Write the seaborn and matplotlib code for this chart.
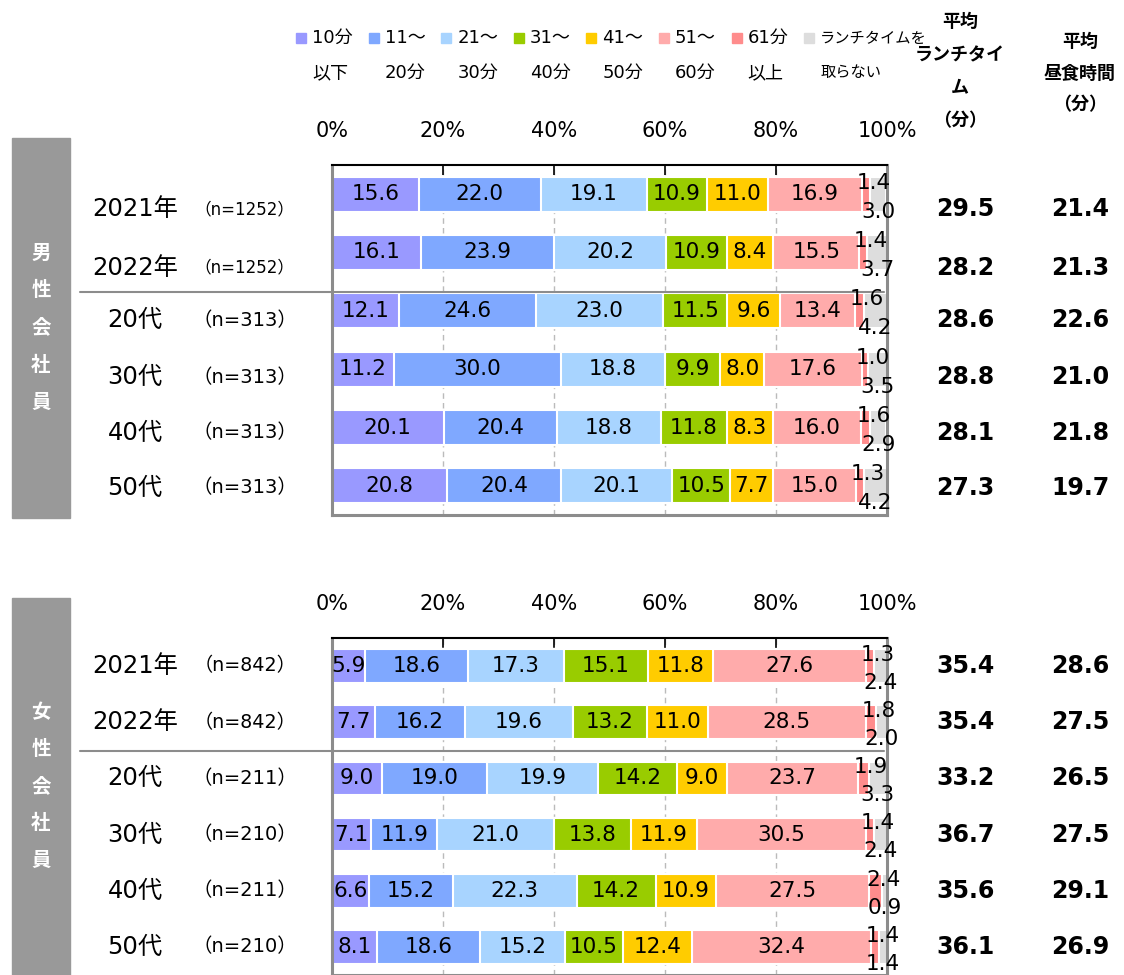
import pandas as pd
import matplotlib.pyplot as plt
from matplotlib.patches import Rectangle
from matplotlib.lines import Line2D
import seaborn as sns

# --- data ---
categories = ['10分以下', '11～20分', '21～30分', '31～40分', '41～50分',
              '51～60分', '61分以上', 'ランチタイムを取らない']
legend_line1 = ['10分', '11～', '21～', '31～', '41～', '51～', '61分', 'ランチタイムを']
legend_line2 = ['以下', '20分', '30分', '40分', '50分', '60分', '以上', '取らない']
colors = ['#9999FF', '#7FA8FF', '#A8D4FF', '#99CC00', '#FFCC00',
          '#FFABAB', '#FF8C8C', '#DDDDDD']

rows = ['2021年', '2022年', '20代', '30代', '40代', '50代']

male_n = ['（n=1252）', '（n=1252）', '（n=313）', '（n=313）', '（n=313）', '（n=313）']
male_shares = [
    [15.6, 22.0, 19.1, 10.9, 11.0, 16.9, 1.4, 3.0],
    [16.1, 23.9, 20.2, 10.9, 8.4, 15.5, 1.4, 3.7],
    [12.1, 24.6, 23.0, 11.5, 9.6, 13.4, 1.6, 4.2],
    [11.2, 30.0, 18.8, 9.9, 8.0, 17.6, 1.0, 3.5],
    [20.1, 20.4, 18.8, 11.8, 8.3, 16.0, 1.6, 2.9],
    [20.8, 20.4, 20.1, 10.5, 7.7, 15.0, 1.3, 4.2],
]
male_lunch_avg = [29.5, 28.2, 28.6, 28.8, 28.1, 27.3]
male_meal_avg = [21.4, 21.3, 22.6, 21.0, 21.8, 19.7]

female_n = ['（n=842）', '（n=842）', '（n=211）', '（n=210）', '（n=211）', '（n=210）']
female_shares = [
    [5.9, 18.6, 17.3, 15.1, 11.8, 27.6, 1.3, 2.4],
    [7.7, 16.2, 19.6, 13.2, 11.0, 28.5, 1.8, 2.0],
    [9.0, 19.0, 19.9, 14.2, 9.0, 23.7, 1.9, 3.3],
    [7.1, 11.9, 21.0, 13.8, 11.9, 30.5, 1.4, 2.4],
    [6.6, 15.2, 22.3, 14.2, 10.9, 27.5, 2.4, 0.9],
    [8.1, 18.6, 15.2, 10.5, 12.4, 32.4, 1.4, 1.4],
]
female_lunch_avg = [35.4, 35.4, 33.2, 36.7, 35.6, 36.1]
female_meal_avg = [28.6, 27.5, 26.5, 27.5, 29.1, 26.9]

header_lunch = ['平均', 'ランチタイ', 'ム', '（分）']
header_meal = ['平均', '昼食時間', '（分）']

W, H = 1124, 975
sns.set_style('white')
plt.rcParams['font.family'] = ['DejaVu Sans', 'Noto Sans CJK JP']
plt.rcParams['text.color'] = 'black'
plt.rcParams['xtick.color'] = 'black'


def fx(x):
    return x / W


def fy(y):
    return 1 - y / H


def draw_panel(fig, top, bottom, shares, n_labels, lunch_avg, meal_avg,
               label_shift, sep_y, n_sizes):
    ax = fig.add_axes([fx(332), fy(bottom), fx(887 - 332), (bottom - top) / H])
    df = pd.DataFrame(shares, columns=categories)
    df['row'] = rows
    cum = df[categories].cumsum(axis=1)

    # stacked bars: draw the longest cumulative bar first
    for i in reversed(range(len(categories))):
        sns.barplot(x=cum[categories[i]], y=df['row'], orient='h',
                    color=colors[i], saturation=1, width=0.6,
                    edgecolor='white', linewidth=1.5, ax=ax)

    ax.set_xlim(0, 100)
    ax.set_ylim(5.5, -0.5)
    ax.set_xlabel('')
    ax.set_ylabel('')
    ax.set_yticks([])
    ax.set_axisbelow(True)
    ax.xaxis.grid(True, linestyle=(0, (4, 3)), color='#BBBBBB', linewidth=1)
    ax.xaxis.set_ticks_position('top')
    ax.set_xticks(range(0, 101, 20))
    ax.set_xticklabels([f'{t}%' for t in range(0, 101, 20)])
    ax.tick_params(axis='x', direction='in', length=7, width=1.2,
                   pad=17, labelsize=15, color='black')

    ax.spines['top'].set_color('black')
    ax.spines['top'].set_linewidth(1.5)
    for s in ['left', 'right', 'bottom']:
        ax.spines[s].set_color('#8C8C8C')
        ax.spines[s].set_linewidth(2.2)

    # segment labels (the two thin segments get labels above / below)
    for r in range(len(rows)):
        for i, cat in enumerate(categories):
            v = shares[r][i]
            center = cum.loc[r, cat] - v / 2
            if i < 6:
                ax.text(center, r, f'{v:.1f}', ha='center', va='center', fontsize=15.5)
            elif i == 6:
                ax.text(center + 1.4, r - 0.2, f'{v:.1f}', ha='center', va='center',
                        fontsize=15.5, clip_on=False)
            else:
                ax.text(center, r + 0.3, f'{v:.1f}', ha='center', va='center',
                        fontsize=15.5, clip_on=False)

    # separator between years and age groups
    tr = ax.get_yaxis_transform()
    ax.add_line(Line2D([-0.454, 0.995], [sep_y, sep_y], transform=tr,
                       color='#8C8C8C', linewidth=1.5, clip_on=False))

    # row labels and averages
    for r in range(len(rows)):
        y = r + label_shift[r]
        ax.text(-0.355, y, rows[r], transform=tr, ha='center', va='center', fontsize=17.5)
        ax.text(-0.157, y, n_labels[r], transform=tr, ha='center', va='center',
                fontsize=n_sizes[r])
        ax.text(1.141, y, f'{lunch_avg[r]:.1f}', transform=tr, ha='center',
                va='center', fontsize=17, fontweight='bold')
        ax.text(1.348, y, f'{meal_avg[r]:.1f}', transform=tr, ha='center',
                va='center', fontsize=17, fontweight='bold')
    return ax


fig = plt.figure(figsize=(W / 100, H / 100), dpi=100)

draw_panel(fig, 165, 515, male_shares, male_n, male_lunch_avg, male_meal_avg,
           [0.26, 0.26, 0.16, 0.14, 0.09, 0.03], 1.68,
           [12, 12, 14, 14, 14, 14])
draw_panel(fig, 638, 975, female_shares, female_n, female_lunch_avg, female_meal_avg,
           [0, 0, 0, 0, 0, 0], 1.52,
           [13.8, 13.8, 14, 14, 14, 14])

# gender side boxes
for top, bottom, label in [(138, 518, '男\n性\n会\n社\n員'), (598, 975, '女\n性\n会\n社\n員')]:
    fig.patches.append(Rectangle((fx(12), fy(bottom)), fx(58), (bottom - top) / H,
                                 transform=fig.transFigure, color='#999999', zorder=0))
    fig.text(fx(41), fy((top + bottom) / 2), label, ha='center', va='center',
             color='white', fontsize=14, fontweight='bold', linespacing=2.2)

# legend
for i in range(len(categories)):
    x0 = 296 + i * 72.6
    size = 11 if i == len(categories) - 1 else 13
    fig.patches.append(Rectangle((fx(x0), fy(43)), fx(10), 10 / H,
                                 transform=fig.transFigure, color=colors[i]))
    fig.text(fx(x0 + 16), fy(38), legend_line1[i], ha='left', va='center', fontsize=size)
    fig.text(fx(x0 + 16), fy(73), legend_line2[i], ha='left', va='center', fontsize=size)

# column headers, one text per line
for j, line in enumerate(header_lunch):
    fig.text(fx(960), fy(22 + j * 33), line, ha='center', va='center',
             fontsize=13, fontweight='bold')
for j, line in enumerate(header_meal):
    fig.text(fx(1080), fy(42 + j * 31.5), line, ha='center', va='center',
             fontsize=13, fontweight='bold')

fig.savefig('out.png', dpi=100)
